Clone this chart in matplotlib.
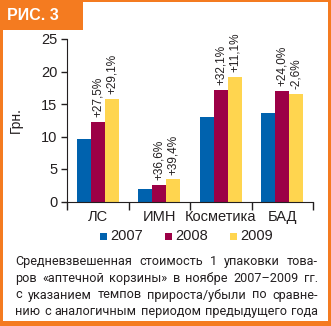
import numpy as np
import matplotlib
matplotlib.use("Agg")
import matplotlib.pyplot as plt
from matplotlib.patches import Rectangle

categories = ["ЛС", "ИМН", "Косметика", "БАД"]
years = ["2007", "2008", "2009"]
v2007 = [9.6, 1.9, 13.0, 13.6]
v2008 = [12.2, 2.5, 17.2, 17.0]
v2009 = [15.8, 3.4, 19.1, 16.5]
lab2008 = ["+27,5%", "+36,6%", "+32,1%", "+24,0%"]
lab2009 = ["+29,1%", "+39,4%", "+11,1%", "-2,6%"]
yticks = [0, 5, 10, 15, 20, 25]
caption = ["Средневзвешенная стоимость 1 упаковки това-",
           "ров «аптечной корзины» в ноябре 2007–2009 гг.",
           "с указанием темпов прироста/убыли по сравне-",
           "нию с аналогичным периодом предыдущего года"]

colors = ["#0062ae", "#9c0046", "#ffd54f"]
orange = "#f47b20"
txt = "#231f20"
W, H = 331, 326

plt.rcParams['font.family'] = ['Liberation Sans', 'DejaVu Sans']

fig = plt.figure(figsize=(W / 100, H / 100), dpi=100)

def fx(px):
    return px / W

def fy(py):
    return 1 - py / H

# orange frame and title box
for (x0, y0, x1, y1) in [(0, 0, 3, H), (328, 0, W, H), (0, 0, W, 2), (0, 321, W, H), (0, 0, 83, 30)]:
    fig.patches.append(Rectangle((fx(x0), fy(y1)), fx(x1) - fx(x0), fy(y0) - fy(y1),
                                 transform=fig.transFigure, color=orange, lw=0))
fig.text(fx(7), fy(15), "РИС. 3", color="white", fontsize=11.5, fontweight="bold",
         va="center", ha="left")

ax = fig.add_axes([fx(67), fy(201.5), fx(313) - fx(67), fy(39) - fy(201.5)])
x = np.arange(len(categories))
w = 0.228
for i, vals in enumerate([v2007, v2008, v2009]):
    ax.bar(x + (i - 1) * w, vals, w, color=colors[i], lw=0)

for i in range(len(categories)):
    ax.annotate(lab2008[i], (x[i], v2008[i]), xytext=(0, 3.5), textcoords="offset points",
                rotation=90, ha="center", va="bottom", fontsize=8.5, color=txt)
    ax.annotate(lab2009[i], (x[i] + w, v2009[i]), xytext=(0, 3.5), textcoords="offset points",
                rotation=90, ha="center", va="bottom", fontsize=8.5, color=txt)

ax.set_xlim(-0.5, 3.5)
ax.set_ylim(0, 25)
ax.set_yticks(yticks)
ax.set_xticks(x)
ax.set_xticklabels(categories)
ax.set_xticks(np.arange(-0.5, 4, 1), minor=True)
ax.tick_params(axis="x", which="major", length=0, labelsize=10.5, colors=txt, pad=6)
ax.tick_params(axis="x", which="minor", length=6, width=1, color=txt)
ax.tick_params(axis="y", length=4, width=1, labelsize=10.5, colors=txt, pad=3)
for s in ["top", "right"]:
    ax.spines[s].set_visible(False)
for s in ["left", "bottom"]:
    ax.spines[s].set_color(txt)
ax.set_ylabel("Грн.", fontsize=10, color=txt)
ax.yaxis.set_label_coords(-0.18, 0.5)

# legend
lx = [100, 165, 230]
for i, yr in enumerate(years):
    fig.patches.append(Rectangle((fx(lx[i]), fy(240)), fx(7), 7 / H,
                                 transform=fig.transFigure, color=colors[i], lw=0))
    fig.text(fx(lx[i] + 10), fy(236.5), yr, fontsize=10.5, color=txt, va="center", ha="left")

# justified caption
fig.canvas.draw()
r = fig.canvas.get_renderer()
left, right = 15, 318
line_y = [265, 282, 298.5, 315]
for ln, yy in zip(caption, line_y):
    words = ln.split(" ")
    objs = [fig.text(0, fy(yy), wd, fontsize=9.1, family=["Roboto", "DejaVu Sans"],
                     color=txt, va="baseline", ha="left") for wd in words]
    widths = [o.get_window_extent(r).width for o in objs]
    gap = (right - left - sum(widths)) / (len(words) - 1)
    pos = left
    for o, wd in zip(objs, widths):
        o.set_x(fx(pos))
        pos += wd + gap

fig.savefig("out.png", dpi=100)
